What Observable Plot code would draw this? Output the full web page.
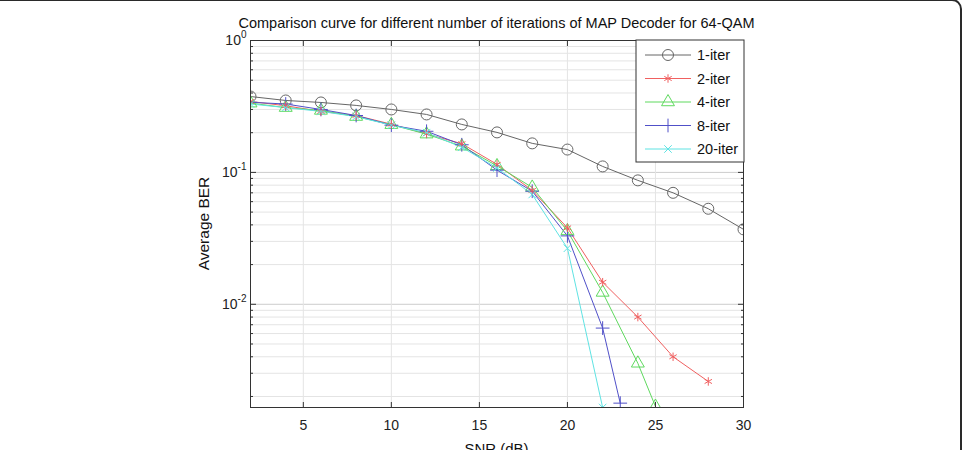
<!DOCTYPE html>
<html><head><meta charset="utf-8">
<script src="https://cdn.jsdelivr.net/npm/d3@7"></script>
<script src="https://cdn.jsdelivr.net/npm/@observablehq/plot@0.6"></script>
<style>
body{margin:0;background:#fff;overflow:hidden}
#wrap{position:relative;width:963px;height:450px;overflow:hidden;background:#fff}
#frame{position:absolute;left:-20px;top:-1px;width:982px;height:490px;border:2px solid #2a2a2a;border-radius:10px;box-sizing:border-box;pointer-events:none}
#chart{position:absolute;left:0;top:0}
</style></head><body><div id="wrap"><div id="chart"></div><div id="frame"></div></div>
<script>
// ---- data ----
const seriesNames = ["1-iter", "2-iter", "4-iter", "8-iter", "20-iter"];
const seriesColors = ["#666666", "#f06060", "#5fd95f", "#5050c8", "#5fe3e3"];
const seriesSymbols = ["circle", "asterisk", "triangle", "plus", "times"];
const seriesMarkerR = [5.5, 4, 4.8, 4.5, 3.5];

const snr1 = [2, 4, 6, 8, 10, 12, 14, 16, 18, 20, 22, 24, 26, 28, 30];
const ber1 = [0.376, 0.351, 0.339, 0.322, 0.300, 0.275, 0.231, 0.201, 0.166, 0.149, 0.111, 0.087, 0.070, 0.053, 0.037];

const snr2 = [2, 4, 6, 8, 10, 12, 14, 16, 18, 20, 22, 24, 26, 28];
const ber2 = [0.345, 0.320, 0.290, 0.270, 0.232, 0.196, 0.165, 0.115, 0.073, 0.038, 0.0147, 0.0080, 0.0040, 0.0026];

const snr4 = [2, 4, 6, 8, 10, 12, 14, 16, 18, 20, 22, 24, 25];
const ber4 = [0.335, 0.310, 0.295, 0.265, 0.230, 0.195, 0.158, 0.112, 0.077, 0.036, 0.0123, 0.00357, 0.00168];

const snr8 = [2, 4, 6, 8, 10, 12, 14, 16, 18, 20, 22, 23];
const ber8 = [0.340, 0.330, 0.300, 0.270, 0.228, 0.205, 0.162, 0.104, 0.072, 0.033, 0.0066, 0.00178];

const snr20 = [2, 4, 6, 8, 10, 12, 14, 16, 18, 20, 22];
const ber20 = [0.330, 0.310, 0.290, 0.265, 0.228, 0.200, 0.155, 0.108, 0.068, 0.0266, 0.00165];

const xTicks = [5, 10, 15, 20, 25, 30];
const xGrid = [5, 10, 15, 20, 25];
const yMajor = [1, 0.1, 0.01];
const yMinor = [0.002, 0.003, 0.004, 0.005, 0.006, 0.007, 0.008, 0.009,
                0.02, 0.03, 0.04, 0.05, 0.06, 0.07, 0.08, 0.09,
                0.2, 0.3, 0.4, 0.5, 0.6, 0.7, 0.8, 0.9];

const titleText = "Comparison curve for different number of iterations of MAP Decoder for 64-QAM";
const xLabel = "SNR (dB)";
const yLabel = "Average BER";

// ---- build table ----
const allSnr = [snr1, snr2, snr4, snr8, snr20];
const allBer = [ber1, ber2, ber4, ber8, ber20];
const rows = [];
seriesNames.forEach((n, i) => allSnr[i].forEach((s, j) => rows.push({name: n, snr: s, ber: allBer[i][j]})));
const rOf = n => seriesMarkerR[seriesNames.indexOf(n)];

const FONT = "'Liberation Sans', Arial, Helvetica, sans-serif";

const chart = Plot.plot({
  width: 963,
  height: 450,
  marginLeft: 250,
  marginRight: 220,
  marginTop: 40,
  marginBottom: 43,
  style: {fontFamily: FONT, fontSize: "14px", background: "transparent", color: "#222"},
  x: {domain: [2, 30], label: null},
  y: {type: "log", domain: [0.00165, 1], label: null},
  color: {domain: seriesNames, range: seriesColors},
  symbol: {domain: seriesNames, range: seriesSymbols},
  r: {type: "identity"},
  marks: [
    Plot.ruleY(yMinor, {stroke: "#e4e4e4"}),
    Plot.ruleY(yMajor.slice(1), {stroke: "#cccccc"}),
    Plot.ruleX(xGrid, {stroke: "#e4e4e4"}),
    Plot.line(rows, {x: "snr", y: "ber", z: "name", stroke: "name", strokeWidth: 1, clip: true}),
    Plot.dot(rows, {x: "snr", y: "ber", symbol: "name", stroke: "name", fill: "none", r: d => rOf(d.name), strokeWidth: 1, clip: true}),
    Plot.frame({stroke: "#333"}),
    // labels
    Plot.axisX(xTicks, {anchor: "bottom", tickSize: 0, tickPadding: 13, label: null, fontSize: 14}),
    Plot.axisY(yMajor, {anchor: "left", tickSize: 0, tickPadding: 4, label: null, fontSize: 14,
      tickFormat: d => "10^" + Math.round(Math.log10(d))}),
    // inward ticks
    Plot.axisX(xTicks, {anchor: "bottom", tickSize: 5, dy: -5, fill: "none", label: null, stroke: "#333"}),
    Plot.axisX(xTicks, {anchor: "top", tickSize: 5, dy: 5, fill: "none", label: null, stroke: "#333"}),
    Plot.axisY(yMajor, {anchor: "left", tickSize: 6, dx: 6, fill: "none", label: null, stroke: "#333"}),
    Plot.axisY(yMinor, {anchor: "left", tickSize: 3, dx: 3, fill: "none", label: null, stroke: "#333"}),
    Plot.axisY(yMajor, {anchor: "right", tickSize: 6, dx: -6, fill: "none", label: null, stroke: "#333"}),
    Plot.axisY(yMinor, {anchor: "right", tickSize: 3, dx: -3, fill: "none", label: null, stroke: "#333"})
  ]
});
document.getElementById("chart").appendChild(chart);

const svg = d3.select(chart);
const NS = "http://www.w3.org/2000/svg";

// superscript tick labels
chart.querySelectorAll('g[aria-label="y-axis tick label"] text').forEach(t => {
  const m = t.textContent.match(/^10\^(-?\d+)$/);
  if (!m) return;
  t.textContent = "";
  t.appendChild(document.createTextNode("10"));
  const ts = document.createElementNS(NS, "tspan");
  ts.setAttribute("dy", "-0.65em");
  ts.setAttribute("font-size", "10");
  ts.textContent = m[1];
  t.appendChild(ts);
});

const x = chart.scale("x"), y = chart.scale("y");
const cx = (x.range[0] + x.range[1]) / 2;
const cy = (y.range[0] + y.range[1]) / 2;

// title & axis labels
svg.append("text").attr("x", cx).attr("y", 28).attr("text-anchor", "middle")
  .attr("font-family", FONT).attr("font-size", 14.5).attr("fill", "#111").text(titleText);
svg.append("text").attr("x", cx).attr("y", 454).attr("text-anchor", "middle")
  .attr("font-family", FONT).attr("font-size", 15).attr("fill", "#111").text(xLabel);
svg.append("text").attr("transform", `translate(209,${cy}) rotate(-90)`).attr("text-anchor", "middle")
  .attr("font-family", FONT).attr("font-size", 15.5).attr("fill", "#111").text(yLabel);

// legend
const lgX = x.range[1] - 107, lgY = y.range[1];
const lg = svg.append("g");
lg.append("rect").attr("x", lgX).attr("y", lgY).attr("width", 108).attr("height", 122)
  .attr("fill", "white").attr("stroke", "#333");
const symMap = {circle: d3.symbolCircle, asterisk: d3.symbolAsterisk, triangle: d3.symbolTriangle, plus: d3.symbolPlus, times: d3.symbolTimes};
seriesNames.forEach((n, i) => {
  const ly = lgY + 15 + i * 23.5;
  lg.append("line").attr("x1", lgX + 9).attr("x2", lgX + 55).attr("y1", ly).attr("y2", ly)
    .attr("stroke", seriesColors[i]).attr("stroke-width", 1);
  lg.append("path").attr("transform", `translate(${lgX + 32},${ly})`)
    .attr("d", d3.symbol(symMap[seriesSymbols[i]], seriesMarkerR[i] * seriesMarkerR[i] * Math.PI)())
    .attr("fill", "none").attr("stroke", seriesColors[i]).attr("stroke-width", 1);
  lg.append("text").attr("x", lgX + 61).attr("y", ly + 5).attr("text-anchor", "start")
    .attr("font-family", FONT).attr("font-size", 14.5).attr("fill", "#111").text(n);
});
</script>
</body></html>
